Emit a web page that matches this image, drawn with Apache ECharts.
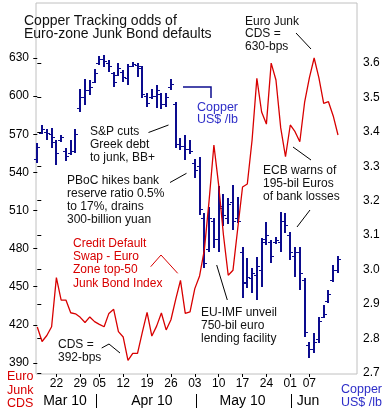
<!DOCTYPE html>
<html><head><meta charset="utf-8">
<script src="https://cdn.jsdelivr.net/npm/echarts@6/dist/echarts.min.js"></script>
<style>html,body{margin:0;padding:0;background:#fff}#c{width:387px;height:413px}</style>
</head><body><div id="c"></div>
<script>
// ---------- DATA ----------
const tradingDays = [
 '2010-03-16','2010-03-17','2010-03-18','2010-03-19','2010-03-22','2010-03-23','2010-03-24','2010-03-25','2010-03-26','2010-03-29','2010-03-30','2010-03-31',
 '2010-04-01','2010-04-05','2010-04-06','2010-04-07','2010-04-08','2010-04-09','2010-04-12','2010-04-13','2010-04-14','2010-04-15','2010-04-16',
 '2010-04-19','2010-04-20','2010-04-21','2010-04-22','2010-04-23','2010-04-26','2010-04-27','2010-04-28','2010-04-29','2010-04-30',
 '2010-05-03','2010-05-04','2010-05-05','2010-05-06','2010-05-07','2010-05-10','2010-05-11','2010-05-12','2010-05-13','2010-05-14',
 '2010-05-17','2010-05-18','2010-05-19','2010-05-20','2010-05-21','2010-05-24','2010-05-25','2010-05-26','2010-05-27','2010-05-28',
 '2010-06-01','2010-06-02','2010-06-03','2010-06-04','2010-06-07','2010-06-08','2010-06-09','2010-06-10','2010-06-11','2010-06-14','2010-06-15'
];
const copperOpen = [3.320,3.398,3.400,3.395,3.370,3.375,3.345,3.340,3.345,3.470,3.500,3.520,3.545,3.600,3.612,3.600,3.570,3.565,3.575,3.555,3.592,3.595,3.585,3.505,3.500,3.505,3.510,3.480,3.530,3.480,3.365,3.360,3.350,3.310,3.300,3.150,3.060,3.140,3.090,3.185,3.150,3.195,3.150,3.050,2.965,2.975,2.985,3.000,3.090,3.080,3.080,3.080,3.140,3.100,3.040,3.050,2.970,2.780,2.770,2.800,2.862,2.910,2.970,3.000];
const copperHigh = [3.369,3.420,3.407,3.412,3.376,3.391,3.352,3.376,3.407,3.524,3.553,3.551,3.582,3.620,3.623,3.609,3.575,3.600,3.580,3.597,3.604,3.600,3.590,3.512,3.523,3.536,3.514,3.514,3.553,3.488,3.381,3.391,3.376,3.321,3.327,3.164,3.183,3.150,3.243,3.220,3.208,3.246,3.211,3.067,3.034,3.005,3.038,3.091,3.139,3.086,3.095,3.168,3.164,3.110,3.067,3.067,2.975,2.791,2.815,2.863,2.897,2.941,3.013,3.040];
const copperLow = [3.309,3.393,3.376,3.352,3.304,3.371,3.316,3.333,3.338,3.459,3.478,3.507,3.541,3.594,3.589,3.575,3.531,3.562,3.545,3.536,3.589,3.558,3.498,3.473,3.494,3.469,3.466,3.472,3.522,3.352,3.347,3.317,3.336,3.265,3.159,3.005,3.052,3.063,3.051,3.127,3.133,3.115,3.135,2.917,2.947,2.932,2.912,2.950,3.072,3.018,3.074,3.052,3.106,3.028,2.980,2.941,2.805,2.743,2.757,2.786,2.859,2.902,2.965,2.989];
const copperClose = [3.355,3.407,3.396,3.386,3.340,3.385,3.330,3.345,3.395,3.500,3.520,3.530,3.570,3.610,3.605,3.590,3.545,3.585,3.560,3.590,3.598,3.590,3.510,3.485,3.505,3.520,3.480,3.500,3.540,3.365,3.360,3.350,3.345,3.290,3.175,3.020,3.150,3.090,3.180,3.160,3.190,3.140,3.140,2.960,2.980,2.990,3.010,3.080,3.100,3.040,3.085,3.140,3.130,3.050,3.050,2.990,2.820,2.770,2.790,2.850,2.870,2.930,3.000,3.030];
const cdsBps = [418.3,406.9,411.6,418.5,457.2,439.5,439.5,429.5,428.7,425.9,421.8,426.2,422.5,420.4,418.5,429.0,432.2,414.6,410.4,392.0,397.6,397.6,414.0,429.8,411.2,419.0,429.3,416.0,424.0,440.0,455.0,429.0,430.2,448.5,458.5,479.0,518.0,561.5,530.0,490.7,459.0,463.0,496.0,528.5,530.8,565.5,614.0,587.5,578.0,626.0,612.7,575.0,552.3,577.3,572.0,564.1,595.0,614.3,630.0,614.3,594.3,595.6,584.4,569.4];
const cdsTicks = [390,420,450,480,510,540,570,600,630];
const copperTicks = [2.7,2.8,2.9,3.0,3.1,3.2,3.3,3.4,3.5,3.6];
const dayTickDates = ['2010-03-22','2010-03-29','2010-04-05','2010-04-12','2010-04-19','2010-04-26','2010-05-03','2010-05-10','2010-05-17','2010-05-24','2010-06-01','2010-06-07'];
const dayTickLabels = ['22','29','05','12','19','26','03','10','17','24','01','07'];
const monthKeys = ['2010-03','2010-04','2010-05','2010-06'];
const monthLabels = ['Mar 10','Apr 10','May 10','Jun'];

// ---------- LAYOUT / STYLE ----------
const FONT = "'Liberation Sans', Arial, sans-serif";
const RED = '#d80000', NAVY = '#0c0c8e', BLUE = '#2e2ec8', INK = '#111';
const X_MIN = -0.27, X_MAX = 66.98;
const monthNudge = [0.3, 2.0, 0.5, -1.3];
const sepNudge = 0.3;

const dayPos = dayTickDates.map(d => tradingDays.indexOf(d));
const monthFirst = monthKeys.map(m => tradingDays.findIndex(d => d.startsWith(m)));
const monthLast = monthKeys.map(m => { let k = -1; tradingDays.forEach((d,i)=>{ if (d.startsWith(m)) k = i; }); return k; });
const monthPos = monthKeys.map((m,i) => (monthFirst[i] + monthLast[i]) / 2 + monthNudge[i]);
const sepPos = monthFirst.slice(1).map(v => v + sepNudge);

function labelAt(positions, labels, v) {
  let best = 0, bd = Infinity;
  positions.forEach((p,i) => { const d = Math.abs(p - v); if (d < bd) { bd = d; best = i; } });
  return labels[best];
}

const ohlc = tradingDays.map((d,i) => [i, copperOpen[i], copperClose[i], copperLow[i], copperHigh[i]]);
const cdsData = tradingDays.map((d,i) => [i, cdsBps[i]]);

const chart = echarts.init(document.getElementById('c'), null, {renderer:'canvas'});

function txt(x, y, text, opts) {
  return Object.assign({type:'text', x:x, y:y, z:50, style:Object.assign({text:text, font:'12px ' + FONT, fill:INK, lineHeight:13, verticalAlign:'top', align:'left'}, opts||{})});
}
function pl(points, color, w) {
  return {type:'polyline', z:50, shape:{points:points}, style:{stroke:color||'#000', lineWidth:w||1, fill:null}};
}

chart.setOption({
  animation:false,
  backgroundColor:'#fff',
  grid:{left:36, right:30, top:3, bottom:39, show:true, borderColor:'#c0c0c0', borderWidth:1},
  xAxis:[{
    type:'value', min:X_MIN, max:X_MAX, position:'bottom',
    axisLine:{show:false}, splitLine:{show:false},
    axisTick:{show:true, customValues:dayPos, length:3, lineStyle:{color:'#000'}},
    axisLabel:{customValues:dayPos, formatter:v => labelAt(dayPos, dayTickLabels, v), margin:4, fontSize:12, color:'#000', fontFamily:FONT}
  },{
    type:'value', min:X_MIN, max:X_MAX, position:'bottom', offset:20,
    axisLine:{show:false}, splitLine:{show:false},
    axisTick:{show:true, customValues:sepPos, length:14, lineStyle:{color:'#000'}},
    axisLabel:{customValues:monthPos, formatter:v => labelAt(monthPos, monthLabels, v), margin:0, fontSize:14, color:'#000', fontFamily:FONT}
  }],
  yAxis:[{
    type:'value', position:'left', min:381.3, max:673.3,
    axisLine:{show:false}, splitLine:{show:false},
    axisTick:{show:true, customValues:cdsTicks, length:4, lineStyle:{color:'#000'}},
    axisLabel:{customValues:cdsTicks, margin:7, fontSize:12, color:'#000', fontFamily:FONT}
  },{
    type:'value', position:'right', min:2.697, max:3.774,
    axisLine:{show:false}, splitLine:{show:false},
    axisTick:{show:true, customValues:copperTicks, length:4, lineStyle:{color:'#000'}},
    axisLabel:{customValues:copperTicks, formatter:v => v.toFixed(1), margin:6, fontSize:12, color:'#000', fontFamily:FONT}
  }],
  series:[{
    type:'custom', name:'Copper', xAxisIndex:0, yAxisIndex:1, z:2,
    data:ohlc,
    encode:{x:0, y:[1,2,3,4]},
    renderItem:function(params, api){
      const x = api.value(0);
      const o = api.coord([x, api.value(1)]);
      const c = api.coord([x, api.value(2)]);
      const l = api.coord([x, api.value(3)]);
      const h = api.coord([x, api.value(4)]);
      const px = Math.round(h[0]);
      const st = {stroke:NAVY, lineWidth:2};
      return {type:'group', children:[
        {type:'line', shape:{x1:px, y1:Math.round(h[1]), x2:px, y2:Math.round(l[1])}, style:st},
        {type:'line', shape:{x1:px-3, y1:Math.round(o[1])+0.5, x2:px, y2:Math.round(o[1])+0.5}, style:{stroke:NAVY, lineWidth:1}},
        {type:'line', shape:{x1:px, y1:Math.round(c[1])+0.5, x2:px+3, y2:Math.round(c[1])+0.5}, style:{stroke:NAVY, lineWidth:1}}
      ]};
    }
  },{
    type:'line', name:'Euro Junk CDS', xAxisIndex:0, yAxisIndex:0, z:3,
    data:cdsData, showSymbol:false, symbol:'none',
    lineStyle:{color:RED, width:1.3}
  }],
  graphic:[
    txt(24, 14, 'Copper Tracking odds of\nEuro-zone Junk Bond defaults', {font:'14px ' + FONT, lineHeight:13.5}),
    txt(245, 15, 'Euro Junk\nCDS =\n630-bps', {lineHeight:12.5}),
    pl([[296,33],[311,49]]),
    txt(197, 102, 'Copper\nUS$ /lb', {font:'12.5px ' + FONT, fill:BLUE, lineHeight:12}),
    pl([[183,87],[211,87],[211,98]], NAVY, 1.5),
    txt(90, 125.5, 'S&P cuts\nGreek debt\nto junk, BB+'),
    pl([[148.5,132.5],[168.5,125]]),
    txt(67, 174.5, 'PBoC hikes bank\nreserve ratio 0.5%\nto 17%, drains\n300-billion yuan'),
    pl([[170,182.5],[186.5,173.3]]),
    txt(73, 236.5, 'Credit Default\nSwap - Euro\nZone top-50\nJunk Bond Index', {fill:RED, lineHeight:13.4}),
    pl([[150.7,266.7],[161,255],[177.7,273.3]], RED, 1),
    txt(58, 338.5, 'CDS =\n392-bps'),
    pl([[101.7,348],[109,344],[120,353]]),
    txt(263, 164.5, 'ECB warns of\n195-bil Euros\nof bank losses'),
    pl([[293,147],[311,160]]),
    pl([[297,227],[310,210]]),
    txt(201, 306.5, 'EU-IMF unveil\n750-bil euro\nlending facility'),
    pl([[216.7,265],[227.3,300]]),
    txt(7, 370, 'Euro\nJunk\nCDS', {font:'12.5px ' + FONT, fill:RED, lineHeight:13.5}),
    txt(341, 383.5, 'Copper\nUS$ /lb', {font:'12.5px ' + FONT, fill:BLUE, lineHeight:12.7})
  ]
});
</script>
</body></html>
